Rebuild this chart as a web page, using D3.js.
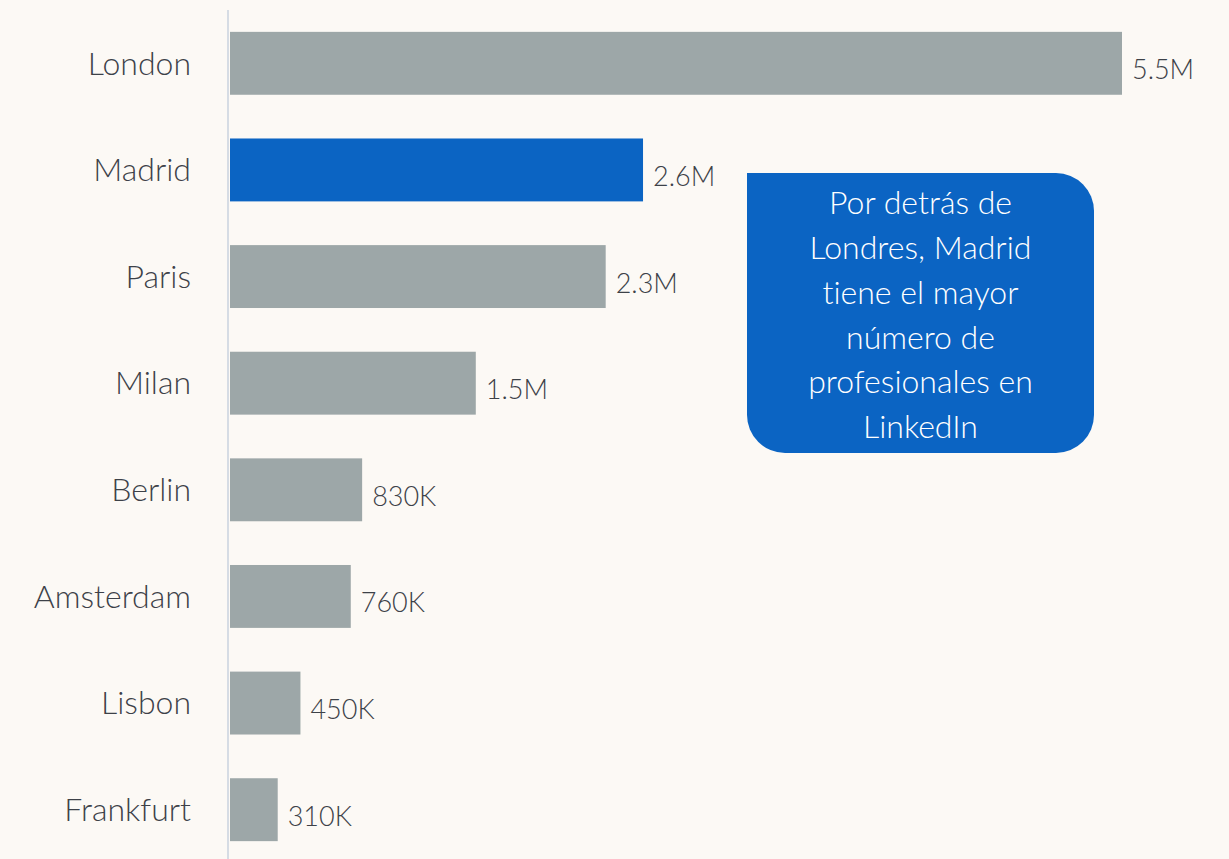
<html>
<head>
  <title>LinkedIn professionals by city</title>
  <script src='https://d3js.org/d3.v7.min.js'></script>
  <style type="text/css">
    body {
      margin: 0;
      background: #fcf9f5;
    }
    text {
      font-family: Lato, "Open Sans", sans-serif;
      font-weight: 300;
      font-variant-ligatures: none;
    }
    .cat {
      font-size: 32px;
      fill: #3d4148;
    }
    .val {
      font-size: 27px;
      fill: #3d4148;
    }
    .note {
      font-size: 32px;
      fill: #fff;
    }
  </style>
</head>
<body>
  <script>
var cities = ["London", "Madrid", "Paris", "Milan", "Berlin", "Amsterdam", "Lisbon", "Frankfurt"];
var members = [5.5, 2.55, 2.32, 1.52, 0.82, 0.75, 0.44, 0.30]; // millions
var valueLabels = ["5.5M", "2.6M", "2.3M", "1.5M", "830K", "760K", "450K", "310K"];
var noteLines = ["Por detrás de", "Londres, Madrid", "tiene el mayor", "número de", "profesionales en", "LinkedIn"];

var width = 1229,
    height = 859,
    x0 = 229;

var svg = d3.select("body").append("svg")
    .attr("width", width)
    .attr("height", height);

svg.append("rect")
    .attr("width", width)
    .attr("height", height)
    .attr("fill", "#fcf9f5");

var x = d3.scaleLinear()
    .domain([0, 5.5])
    .range([x0, 1122]);

var y = d3.scaleBand()
    .domain(cities)
    .range([10, 863])
    .paddingInner(0.41)
    .paddingOuter(0.205);

var data = cities.map(function(c, i) {
  return { city: c, v: members[i], label: valueLabels[i] };
});

// vertical axis line
svg.append("line")
    .attr("x1", x0 - 1).attr("x2", x0 - 1)
    .attr("y1", 10).attr("y2", height)
    .attr("stroke", "#d6dce4")
    .attr("stroke-width", 2);

svg.selectAll(".bar")
    .data(data)
    .enter()
    .append("rect")
    .attr("class", "bar")
    .attr("x", x(0) + 1)
    .attr("y", function(d) { return y(d.city); })
    .attr("width", function(d) { return x(d.v) - x(0) - 1; })
    .attr("height", y.bandwidth())
    .attr("fill", function(d) { return d.city === "Madrid" ? "#0b64c3" : "#9da7a8"; });

svg.selectAll(".cat")
    .data(data)
    .enter()
    .append("text")
    .attr("class", "cat")
    .attr("x", 191)
    .attr("y", function(d) { return y(d.city) + y.bandwidth() / 2; })
    .attr("dy", "0.35em")
    .attr("text-anchor", "end")
    .text(function(d) { return d.city; });

svg.selectAll(".val")
    .data(data)
    .enter()
    .append("text")
    .attr("class", "val")
    .attr("x", function(d) { return x(d.v) + 10; })
    .attr("y", function(d) { return y(d.city) + y.bandwidth() / 2 + 16; })
    .text(function(d) { return d.label; });

// callout box: square top-left corner, others rounded
var bx = 747, by = 173, bw = 347, bh = 280, r = 38;
var p = d3.path();
p.moveTo(bx, by);
p.lineTo(bx + bw - r, by);
p.arcTo(bx + bw, by, bx + bw, by + r, r);
p.lineTo(bx + bw, by + bh - r);
p.arcTo(bx + bw, by + bh, bx + bw - r, by + bh, r);
p.lineTo(bx + r, by + bh);
p.arcTo(bx, by + bh, bx, by + bh - r, r);
p.closePath();

svg.append("path")
    .attr("d", p.toString())
    .attr("fill", "#0b64c3");

svg.append("g")
    .selectAll("text")
    .data(noteLines)
    .enter()
    .append("text")
    .attr("class", "note")
    .attr("x", bx + bw / 2)
    .attr("y", function(d, i) { return 203 + i * 44.8; })
    .attr("dy", "0.35em")
    .attr("text-anchor", "middle")
    .text(function(d) { return d; });
  </script>
</body>
</html>
